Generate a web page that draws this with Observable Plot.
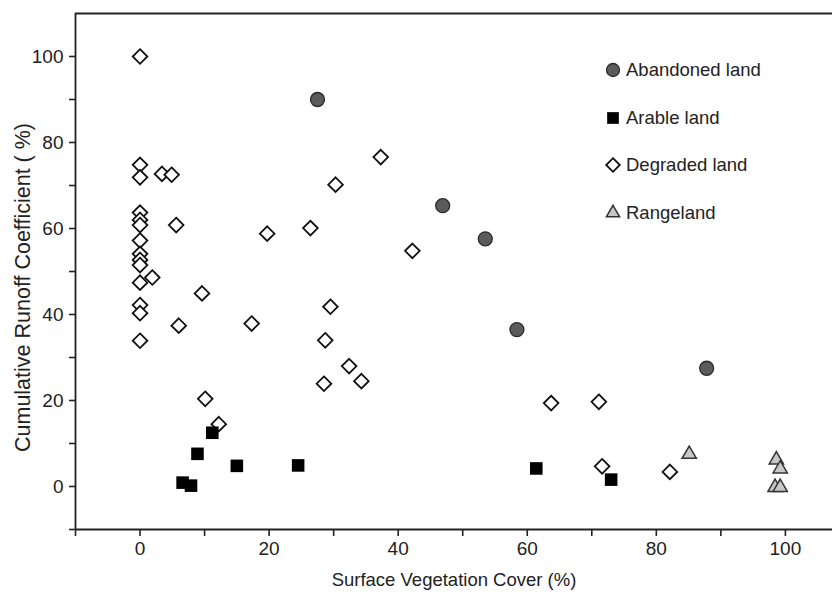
<!DOCTYPE html>
<html><head><meta charset="utf-8">
<script src="https://cdn.jsdelivr.net/npm/d3@7"></script>
<script src="https://cdn.jsdelivr.net/npm/@observablehq/plot@0.6"></script>
<style>
html,body{margin:0;padding:0;background:#fff;}
#chart{position:relative;width:832px;height:592px;font-family:"Liberation Sans",Arial,sans-serif;}
#legend{position:absolute;left:600px;top:46px;}
.row{display:flex;align-items:center;height:47.7px;font-size:18.5px;color:#222;white-space:nowrap;}
.row svg{width:26px;height:26px;display:block;}
</style></head><body><div id="chart"></div>
<script>
// Categories (legend order)
const categories = ["Abandoned land", "Arable land", "Degraded land", "Rangeland"];

// Series values: Surface Vegetation Cover (%) and Cumulative Runoff Coefficient (%)
const abandonedX = [27.5, 46.9, 53.5, 58.4, 87.8];
const abandonedY = [90.0, 65.3, 57.6, 36.5, 27.5];

const arableX = [6.6, 7.9, 8.9, 11.2, 15.0, 24.5, 61.4, 73.0];
const arableY = [0.9, 0.2, 7.6, 12.5, 4.8, 4.9, 4.2, 1.6];

const degradedX = [0, 0, 0, 0, 0, 0, 0, 0, 0, 0, 0, 0, 0, 0,
  3.4, 4.9, 5.6, 1.9, 9.6, 6.0, 17.3, 19.7, 26.4, 30.3, 37.3, 42.2,
  29.5, 28.7, 32.4, 34.3, 28.5, 10.1, 12.2, 63.7, 71.1, 71.6, 82.1];
const degradedY = [100, 74.8, 71.9, 63.7, 62.0, 60.8, 57.2, 54.1, 52.7, 51.5, 47.4, 42.2, 40.3, 33.9,
  72.7, 72.5, 60.8, 48.6, 44.9, 37.4, 37.9, 58.8, 60.1, 70.2, 76.6, 54.8,
  41.8, 34.0, 28.0, 24.5, 23.9, 20.4, 14.5, 19.4, 19.7, 4.7, 3.4];

const rangeX = [85.1, 98.6, 99.2, 98.4, 99.2];
const rangeY = [7.5, 6.2, 4.1, -0.2, -0.2];

// Tick values
const xTicks = [-10, 0, 10, 20, 30, 40, 50, 60, 70, 80, 90, 100];
const yTicks = [-10, 0, 10, 20, 30, 40, 50, 60, 70, 80, 90, 100];
const xDomain = [-10, 107.3];
const yDomain = [-10, 110];
const xLabel = "Surface Vegetation Cover (%)";
const yLabel = "Cumulative Runoff Coefficient ( %)";

// Styles per category
const styles = {
  "Abandoned land": {symbol: "circle", r: 7, fill: "#5b5b5b", stroke: "#2b2b2b", sw: 1.3},
  "Arable land": {symbol: "square", r: 7.1, fill: "#000000", stroke: "none", sw: 0},
  "Degraded land": {symbol: "diamond2", r: 6.6, fill: "#ffffff", stroke: "#111111", sw: 1.8},
  "Rangeland": {symbol: "triangle", r: 5.3, fill: "#c8c8c8", stroke: "#333333", sw: 1.5}
};

const toRows = (xs, ys) => xs.map((x, i) => ({x, y: ys[i]}));
const series = {
  "Abandoned land": toRows(abandonedX, abandonedY),
  "Arable land": toRows(arableX, arableY),
  "Degraded land": toRows(degradedX, degradedY),
  "Rangeland": toRows(rangeX, rangeY)
};
const drawOrder = ["Degraded land", "Arable land", "Abandoned land", "Rangeland"];
const fmt = d => d % 20 === 0 ? String(d) : "";

const plot = Plot.plot({
  width: 832,
  height: 592,
  marginLeft: 75,
  marginRight: 0,
  marginTop: 13,
  marginBottom: 63,
  style: {fontFamily: '"Liberation Sans", Arial, sans-serif', color: "#222", background: "#fff", overflow: "visible"},
  x: {domain: xDomain},
  y: {domain: yDomain},
  marks: [
    Plot.axisY(yTicks, {tickSize: 6, tickPadding: 6, tickFormat: fmt, fontSize: 19, label: null, stroke: "#222", strokeWidth: 1.6}),
    Plot.axisX(xTicks, {tickSize: 7, tickPadding: 5, tickFormat: fmt, fontSize: 19, label: null, stroke: "#222", strokeWidth: 1.6}),
    Plot.ruleY([yDomain[0], yDomain[1]], {stroke: "#222", strokeWidth: 1.8}),
    Plot.ruleX([xDomain[0]], {stroke: "#222", strokeWidth: 1.8}),
    ...drawOrder.map(c => {
      const s = styles[c];
      return Plot.dot(series[c], {x: "x", y: "y", symbol: () => s.symbol, r: s.r, fill: s.fill, stroke: s.stroke, strokeWidth: s.sw});
    }),
    Plot.text([yLabel], {text: d => d, frameAnchor: "left", textAnchor: "middle", lineAnchor: "middle", rotate: -90, dx: -52, dy: 16, fontSize: 21.5, fill: "#222"}),
    Plot.text([xLabel], {text: d => d, frameAnchor: "bottom", textAnchor: "middle", lineAnchor: "middle", dy: 51, fontSize: 18.5, fill: "#222"})
  ],
  symbol: {domain: ["circle", "square", "diamond2", "triangle"], range: ["circle", "square", "diamond2", "triangle"]}
});

const chart = document.getElementById("chart");
chart.appendChild(plot);

// Legend overlay
const legend = document.createElement("div");
legend.id = "legend";
const symMap = {circle: d3.symbolCircle, square: d3.symbolSquare, diamond2: d3.symbolDiamond2, triangle: d3.symbolTriangle};
categories.forEach(c => {
  const s = styles[c];
  const row = document.createElement("div");
  row.className = "row";
  const svg = d3.create("svg").attr("viewBox", "-13 -13 26 26");
  const scale = 0.93;
  svg.append("path")
    .attr("d", d3.symbol(symMap[s.symbol], Math.PI * (s.r * scale) ** 2)())
    .attr("fill", s.fill).attr("stroke", s.stroke).attr("stroke-width", s.sw);
  row.appendChild(svg.node());
  const t = document.createElement("span");
  t.textContent = c;
  row.appendChild(t);
  legend.appendChild(row);
});
chart.appendChild(legend);
</script></body></html>
